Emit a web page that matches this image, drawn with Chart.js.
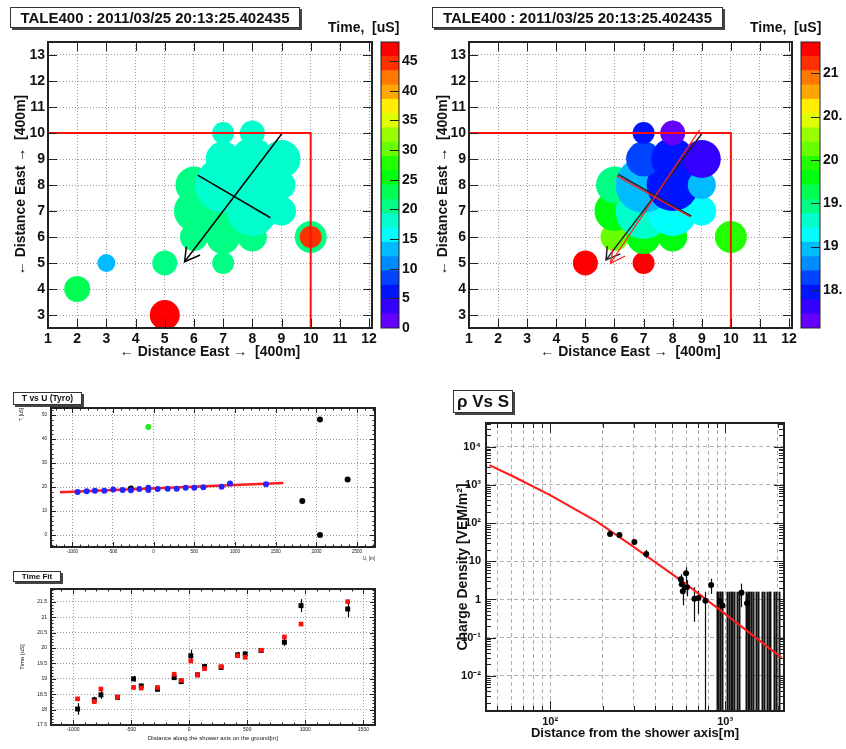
<!DOCTYPE html>
<html>
<head>
<meta charset="utf-8">
<title>TALE400 event display</title>
<script src="https://cdn.jsdelivr.net/npm/chart.js@4.4.1/dist/chart.umd.min.js"></script>
<style>
  html, body { margin: 0; padding: 0; background: #fff; }
  #page { position: relative; width: 846px; height: 749px; overflow: hidden; background: #fff;
          font-family: 'Liberation Sans', Arial, Helvetica, sans-serif; color: #111; }
  #page canvas { position: absolute; }
  .pave { position: absolute; box-sizing: border-box; border: 1px solid #333; box-shadow: 2px 2px 0 #444;
          background: #fff; font-weight: bold; text-align: center; white-space: nowrap; }
  .zlabel { position: absolute; font-weight: bold; font-size: 14px; white-space: pre; }
</style>
</head>
<body>
<div id="page">
  <canvas id="mapAll" width="400" height="370" style="left:0;top:0"></canvas>
  <canvas id="barAll" width="60" height="370" style="left:370px;top:0"></canvas>
  <canvas id="mapFit" width="400" height="370" style="left:420px;top:0"></canvas>
  <canvas id="barFit" width="56" height="370" style="left:790px;top:0"></canvas>
  <canvas id="tyro" width="430" height="185" style="left:0;top:385px"></canvas>
  <canvas id="timeFit" width="430" height="179" style="left:0;top:570px"></canvas>
  <canvas id="ldf" width="416" height="369" style="left:430px;top:380px"></canvas>

  <div class="pave" style="left:10px;top:7px;width:290px;height:21px;font-size:15px;line-height:19px">TALE400 : 2011/03/25 20:13:25.402435</div>
  <div class="pave" style="left:432px;top:7px;width:291px;height:21px;font-size:15px;line-height:19px">TALE400 : 2011/03/25 20:13:25.402435</div>
  <div class="zlabel" style="left:328px;top:19px">Time,  [uS]</div>
  <div class="zlabel" style="left:750px;top:19px">Time,  [uS]</div>
  <div class="pave" style="left:13px;top:392px;width:69px;height:13px;font-size:8.5px;line-height:11px">T vs U (Tyro)</div>
  <div class="pave" style="left:13px;top:571px;width:48px;height:11px;font-size:8px;line-height:9px">Time Fit</div>
  <div class="pave" style="left:453px;top:390px;width:60px;height:23px;font-size:17px;line-height:21px">ρ Vs S</div>
</div>

<script>
// ---------- detectors (map panels) ----------
const detX    = [5, 7,   6, 7, 8, 10,   6, 7, 8, 9,   6, 7, 8, 9,   7, 8, 9,   7, 8,   10, 2, 3, 5];
const detY    = [5, 5,   6, 6, 6, 6,    7, 7, 7, 7,   8, 8, 8, 8,   9, 9, 9,   10, 10, 6, 4, 5, 3];
const detTime = [21.38, 21.27, 20.19, 19.75, 19.81, 19.92, 19.78, 19.33, 19.13, 19.1,
                 19.42, 19.0, 18.5, 18.91, 18.7, 18.45, 18.32, 18.48, 18.1, 45.1, 23.2, 14.2, 48.3];
const detSize = [12.5, 11, 14, 17, 14.5, 16, 20, 28, 25, 14.5, 18.5, 28, 26, 14, 17.5, 21.5, 19, 11, 12.5, 11, 13, 9, 15];
const detInFit = [1,1, 1,1,1,1, 1,1,1,1, 1,1,1,1, 1,1,1, 1,1, 0,0,0,0];

const mapXTicks = [1, 2, 3, 4, 5, 6, 7, 8, 9, 10, 11, 12];
const mapYTicks = [3, 4, 5, 6, 7, 8, 9, 10, 11, 12, 13];
const arrayEdge = [[1, 10], [10, 10], [10, 2.5]];

const axisAll  = [[9.03, 10.0], [5.68, 5.05]];
const headAll  = [[5.74, 5.63], [5.68, 5.05], [6.21, 5.31]];
const frontAll = [[6.13, 8.38], [8.62, 6.74]];
const axisFit  = [[9.02, 10.0], [5.71, 5.12]];
const headFit  = [[5.75, 5.65], [5.71, 5.12], [6.2, 5.35]];
const frontFit = [[6.13, 8.41], [8.64, 6.8]];
const axisGeo  = [[8.93, 10.13], [5.86, 4.99]];
const headGeo  = [[5.95, 5.55], [5.86, 4.99], [6.37, 5.27]];
const frontGeo = [[6.08, 8.35], [8.6, 6.78]];

const zRangeAll = [0, 48.2];
const zTicksAll = [0, 5, 10, 15, 20, 25, 30, 35, 40, 45];
const zRangeFit = [18.06, 21.36];
const zTicksFit = [18.5, 19, 19.5, 20, 20.5, 21];
const zTextFit  = ['18.', '19', '19.', '20', '20.', '21'];

// ---------- T vs U (Tyro) ----------
const tyroU = [-933, -822, -720, -605, -495, -380, -278, -175, -65, -65, 50, 173, 284, 394, 500, 611, 836, 939, 1381];
const tyroT = [18.0, 18.3, 18.5, 18.5, 19.0, 18.75, 18.7, 19.2, 19.7, 18.75, 19.2, 19.3, 19.3, 19.7, 19.7, 19.9, 20.1, 21.5, 21.2];
const tyroOutU = [-278, 1827, 2044, 2044, 2384];
const tyroOutT = [19.4, 14.2, 48.2, 0, 23.2];
const tyroFlagU = [-65];
const tyroFlagT = [45.1];
const tyroLineU = [-1150, 1594];
const tyroLineT = [17.8, 21.75];
const tyroXTicks = [-1000, -500, 0, 500, 1000, 1500, 2000, 2500];
const tyroYTicks = [0, 10, 20, 30, 40, 50];

// ---------- Time fit ----------
const fitS     = [-961, -817, -760, -617, -479, -413, -273, -129, -69, 14, 71, 132, 275, 416, 482, 619, 820, 963, 1365];
const fitT     = [18.02, 18.32, 18.48, 18.4, 19.0, 18.77, 18.66, 19.04, 18.91, 19.75, 19.13, 19.4, 19.37, 19.78, 19.81, 19.92, 20.19, 21.38, 21.27];
const fitTErr  = [0.19, 0.1, 0.13, 0.06, 0.1, 0.08, 0.06, 0.08, 0.07, 0.2, 0.06, 0.08, 0.07, 0.1, 0.08, 0.07, 0.12, 0.21, 0.27];
const fitModel = [18.35, 18.26, 18.67, 18.41, 18.72, 18.7, 18.72, 19.15, 18.95, 19.58, 19.13, 19.33, 19.4, 19.75, 19.7, 19.93, 20.36, 20.78, 21.51];
const fitXTicks = [-1000, -500, 0, 500, 1000, 1500];
const fitYTicks = [17.5, 18, 18.5, 19, 19.5, 20, 20.5, 21, 21.5];

// ---------- rho vs S ----------
const rhoS   = [220, 249, 303, 354, 558, 565, 573, 598, 605, 668, 704, 772, 832, 935, 966, 1240, 1335];
const rhoVal = [52, 49, 32, 15.5, 3.4, 2.5, 1.65, 4.9, 2.1, 1.04, 1.1, 0.93, 2.4, 0.9, 0.7, 1.5, 0.8];
const rhoLo  = [46, 44, 27, 12, 2.4, 1.5, 0.7, 2.6, 1.2, 0.26, 0.42, 0, 1.4, 0.35, 0.3, 0.63, 0.13];
const rhoHi  = [58, 55, 38, 20, 4.6, 3.9, 3.1, 7, 3.2, 2.1, 1.7, 1.6, 3.5, 1.6, 1.6, 2.6, 1.4];
const zeroS  = [896, 916, 936, 957, 1031, 1054, 1078, 1097, 1125, 1166, 1202, 1318, 1348, 1378, 1414,
                1452, 1504, 1550, 1620, 1670, 1730, 1770, 1807, 1890, 1956, 2042];
const zeroUpper = 1.6;
const ldfS   = [45, 62, 100, 185, 300, 580, 1000, 2100];
const ldfRho = [3300, 1640, 540, 110, 24, 2.8, 0.42, 0.03];
const rhoXTickVals = [100, 1000];
const rhoXTickText = ['10²', '10³'];
const rhoYTickVals = [1e-2, 1e-1, 1, 10, 100, 1e3, 1e4];
const rhoYTickText = ['10⁻²', '10⁻¹', '1', '10', '10²', '10³', '10⁴'];

// ---------- helpers ----------
const FONT = "'Liberation Sans', Arial, Helvetica, sans-serif";
const INK = '#111';
const GRID = '#9a9a9a';
const f = (size, bold) => ({ family: FONT, size: size, weight: bold ? 'bold' : 'normal', lineHeight: 1.2 });
const fixedTicks = vals => s => { s.ticks = vals.map(v => ({ value: v })); };
const plain = v => String(v);   // ROOT style labels, no thousands separator
const steps = (a, b, d) => { const out = []; for (let v = a; v <= b + 1e-9; v += d) out.push(+v.toFixed(6)); return out; };
const logMinors = (lo, hi) => { const out = []; for (let e = lo; e <= hi; e++) for (let m = 2; m <= 9; m++) out.push(m * Math.pow(10, e)); return out; };
const pts = arr => arr.map(([x, y]) => ({ x, y }));

// ROOT "pretty" palette (50 hues violet -> red), 20 contour levels
function rootColor(j) {
  const idx = Math.floor((j + 0.99) * 50 / 20);
  const hue = 280 - (idx + 1) * 5.6;
  return 'hsl(' + hue.toFixed(1) + ', 100%, 50%)';
}
function zColor(t, zr) {
  let j = Math.floor((t - zr[0]) / (zr[1] - zr[0]) * 20);
  return rootColor(Math.max(0, Math.min(19, j)));
}

// ROOT style frame with inward ticks on every side
const rootFrame = {
  id: 'rootFrame',
  afterDatasetsDraw(chart, args, o) {
    if (!o || !o.width) return;
    const { ctx, chartArea: a, scales } = chart;
    const sides = o.sides || { bottom: true, top: true, left: true, right: true };
    ctx.save();
    ctx.strokeStyle = o.color || '#222';
    ctx.lineWidth = 1;
    const mark = (scale, vals, len) => {
      if (!scale || !vals) return;
      vals.forEach(v => {
        const p = Math.round(scale.getPixelForValue(v)) + 0.5;
        ctx.beginPath();
        if (scale.isHorizontal()) {
          if (p < a.left || p > a.right) return;
          if (sides.bottom) { ctx.moveTo(p, a.bottom); ctx.lineTo(p, a.bottom - len); }
          if (sides.top) { ctx.moveTo(p, a.top); ctx.lineTo(p, a.top + len); }
        } else {
          if (p < a.top || p > a.bottom) return;
          if (sides.left) { ctx.moveTo(a.left, p); ctx.lineTo(a.left + len, p); }
          if (sides.right) { ctx.moveTo(a.right, p); ctx.lineTo(a.right - len, p); }
        }
        ctx.stroke();
      });
    };
    if (scales.x && scales.x.type !== 'category') mark(scales.x, o.xMajor || scales.x.ticks.map(t => t.value), o.major);
    mark(scales.x, o.xMinor, o.minor);
    mark(scales.y, o.yMajor || scales.y.ticks.map(t => t.value), o.major);
    mark(scales.y, o.yMinor, o.minor);
    ctx.lineWidth = o.width;
    ctx.strokeRect(a.left, a.top, a.width, a.height);
    ctx.restore();
  }
};

// vertical error bars read from data points {lo, hi}
const errorBars = {
  id: 'errorBars',
  beforeDatasetsDraw(chart) {
    const { ctx, chartArea: a, scales: { x, y } } = chart;
    ctx.save();
    ctx.beginPath(); ctx.rect(a.left, a.top, a.width, a.height); ctx.clip();
    chart.data.datasets.forEach(ds => {
      if (!ds.errColor) return;
      ctx.strokeStyle = ds.errColor;
      ctx.lineWidth = ds.errWidth || 1;
      ds.data.forEach(d => {
        if (d.lo === undefined) return;
        const px = Math.round(x.getPixelForValue(d.x)) + 0.5;
        const y1 = (y.type === 'logarithmic' && d.lo <= 0) ? a.bottom : y.getPixelForValue(d.lo);
        const y2 = y.getPixelForValue(d.hi);
        ctx.beginPath(); ctx.moveTo(px, y1); ctx.lineTo(px, y2); ctx.stroke();
      });
    });
    ctx.restore();
  }
};
Chart.register(rootFrame, errorBars);

const base = {
  animation: false, responsive: false, events: [],
  plugins: { legend: { display: false }, tooltip: { enabled: false } }
};

// ---------- map panels ----------
function buildMap(id, keep, zr, lines, yWidth, yTitlePad) {
  const idx = detX.map((_, i) => i).filter(keep);
  const bubbles = idx.map(i => ({ x: detX[i], y: detY[i], r: detSize[i] }));
  const colors = idx.map(i => zColor(detTime[i], zr));
  const lineSets = lines.map(([p, color, w]) => ({
    type: 'scatter', data: pts(p), showLine: true, borderColor: color, borderWidth: w,
    pointRadius: 0, fill: false, clip: 0
  }));
  new Chart(document.getElementById(id), {
    type: 'bubble',
    data: { datasets: [...lineSets, { type: 'bubble', data: bubbles, backgroundColor: colors, borderWidth: 0, hoverRadius: 0, clip: 0 }] },
    options: {
      ...base,
      layout: { padding: { left: 0, top: 42, right: 20, bottom: 0 } },
      plugins: { ...base.plugins, rootFrame: { width: 2, color: '#222', major: 9 } },
      scales: {
        x: {
          type: 'linear', min: 1, max: 12.1,
          afterBuildTicks: fixedTicks(mapXTicks), afterFit: s => { s.height = 42; },
          grid: { color: GRID, drawTicks: false }, border: { display: false, dash: [1, 2] },
          ticks: { font: f(14, true), color: INK, padding: 3, maxRotation: 0, autoSkip: false, callback: plain },
          title: { display: true, text: '← Distance East →  [400m]', font: f(14, true), color: INK, padding: { top: 0, bottom: 9.6 } }
        },
        y: {
          type: 'linear', min: 2.5, max: 13.5,
          afterBuildTicks: fixedTicks(mapYTicks), afterFit: s => { s.width = yWidth; },
          grid: { color: GRID, drawTicks: false }, border: { display: false, dash: [1, 2] },
          ticks: { font: f(14, true), color: INK, padding: 3, autoSkip: false, callback: plain },
          title: { display: true, text: '← Distance East →  [400m]', font: f(14, true), color: INK, padding: { top: yTitlePad, bottom: 0 } }
        }
      }
    }
  });
}

buildMap('mapAll', () => true, zRangeAll, [
  [arrayEdge, '#ff1010', 2],
  [axisAll, '#000', 1.5], [headAll, '#000', 1.5], [frontAll, '#000', 1.5]
], 48, 12.6);

buildMap('mapFit', i => detInFit[i] === 1, zRangeFit, [
  [arrayEdge, '#ff1010', 2],
  [axisGeo, '#ff2020', 1.3], [headGeo, '#ff2020', 1.3], [frontGeo, '#ff2020', 1.3],
  [axisFit, '#222', 1.5], [headFit, '#222', 1.5], [frontFit, '#222', 1.5]
], 49, 14.6);

// ---------- colour bars ----------
function buildBar(id, zr, tickVals, tickText, axisWidth) {
  const bands = [];
  for (let j = 0; j < 20; j++) {
    const lo = zr[0] + (zr[1] - zr[0]) * j / 20, hi = zr[0] + (zr[1] - zr[0]) * (j + 1) / 20;
    bands.push({ data: [[lo, hi]], backgroundColor: rootColor(j), borderWidth: 0, grouped: false,
                 barPercentage: 1, categoryPercentage: 1 });
  }
  new Chart(document.getElementById(id), {
    type: 'bar',
    data: { labels: [''], datasets: bands },
    options: {
      ...base,
      layout: { padding: { left: 11, top: 42, right: 0, bottom: 42 } },
      plugins: { ...base.plugins, rootFrame: { width: 1, color: '#222', major: 9, sides: { right: true } } },
      scales: {
        x: { type: 'category', display: false },
        y: {
          type: 'linear', position: 'right', min: zr[0], max: zr[1],
          afterBuildTicks: fixedTicks(tickVals), afterFit: s => { s.width = axisWidth; },
          grid: { display: false, drawTicks: false }, border: { display: false },
          ticks: { font: f(14, true), color: INK, padding: 3, autoSkip: false,
                   callback: v => tickText ? tickText[tickVals.indexOf(v)] : String(v) }
        }
      }
    }
  });
}
buildBar('barAll', zRangeAll, zTicksAll, null, 31);
buildBar('barFit', zRangeFit, zTicksFit, zTextFit, 26);

// ---------- T vs U ----------
new Chart(document.getElementById('tyro'), {
  type: 'scatter',
  data: { datasets: [
    { data: tyroU.map((u, i) => ({ x: u, y: tyroT[i] })), backgroundColor: '#2424ff', borderWidth: 0, pointRadius: 3 },
    { data: tyroOutU.map((u, i) => ({ x: u, y: tyroOutT[i] })), backgroundColor: '#000', borderWidth: 0, pointRadius: 3 },
    { data: tyroFlagU.map((u, i) => ({ x: u, y: tyroFlagT[i] })), backgroundColor: '#22ee22', borderWidth: 0, pointRadius: 3 },
    { data: tyroLineU.map((u, i) => ({ x: u, y: tyroLineT[i] })), showLine: true, borderColor: '#ff1c1c', borderWidth: 2.5, pointRadius: 0 }
  ] },
  options: {
    ...base,
    layout: { padding: { left: 0, top: 23, right: 55, bottom: 0 } },
    plugins: { ...base.plugins, rootFrame: { width: 2, color: '#222', major: 5, minor: 2.5,
      xMinor: steps(-1200, 2700, 100), yMinor: steps(-4, 52, 2) } },
    scales: {
      x: {
        type: 'linear', min: -1260, max: 2720,
        afterBuildTicks: fixedTicks(tyroXTicks), afterFit: s => { s.height = 23; },
        grid: { color: GRID, drawTicks: false }, border: { display: false, dash: [1, 2] },
        ticks: { font: f(4.5, false), color: INK, padding: 2, maxRotation: 0, autoSkip: false, callback: plain },
        title: { display: true, text: 'U, [m]', align: 'end', font: f(4.5, false), color: INK, padding: { top: 0, bottom: 8.4 } }
      },
      y: {
        type: 'linear', min: -5, max: 53,
        afterBuildTicks: fixedTicks(tyroYTicks), afterFit: s => { s.width = 51; },
        grid: { color: GRID, drawTicks: false }, border: { display: false, dash: [1, 2] },
        ticks: { font: f(4.5, false), color: INK, padding: 4, autoSkip: false, callback: plain },
        title: { display: true, text: 'T, [uS]', align: 'end', font: f(4.5, false), color: INK, padding: { top: 19, bottom: 0 } }
      }
    }
  }
});

// ---------- Time fit ----------
new Chart(document.getElementById('timeFit'), {
  type: 'scatter',
  data: { datasets: [
    { data: fitS.map((s, i) => ({ x: s, y: fitModel[i] })), backgroundColor: '#ff1010', borderWidth: 0,
      pointStyle: 'rect', pointRadius: 3.3 },
    { data: fitS.map((s, i) => ({ x: s, y: fitT[i], lo: fitT[i] - fitTErr[i], hi: fitT[i] + fitTErr[i] })),
      backgroundColor: '#000', borderWidth: 0, pointStyle: 'rect', pointRadius: 3.5, errColor: '#000', errWidth: 1.2 }
  ] },
  options: {
    ...base,
    layout: { padding: { left: 0, top: 19, right: 55, bottom: 0 } },
    plugins: { ...base.plugins, rootFrame: { width: 2, color: '#222', major: 5, minor: 2.5,
      xMinor: steps(-1100, 1600, 100), yMinor: steps(17.5, 21.9, 0.1) } },
    scales: {
      x: {
        type: 'linear', min: -1190, max: 1600,
        afterBuildTicks: fixedTicks(fitXTicks), afterFit: s => { s.height = 24; },
        grid: { color: GRID, drawTicks: false }, border: { display: false, dash: [1, 2] },
        ticks: { font: f(5, false), color: INK, padding: 2, maxRotation: 0, autoSkip: false, callback: plain },
        title: { display: true, text: 'Distance along the shower axis on the ground[m]', font: f(6, false), color: INK, padding: { top: 0, bottom: 7 } }
      },
      y: {
        type: 'linear', min: 17.5, max: 21.92,
        afterBuildTicks: fixedTicks(fitYTicks), afterFit: s => { s.width = 51; },
        grid: { color: GRID, drawTicks: false }, border: { display: false, dash: [1, 2] },
        ticks: { font: f(5, false), color: INK, padding: 4, autoSkip: false, callback: plain },
        title: { display: true, text: 'Time [uS]', font: f(6, false), color: INK, padding: { top: 19, bottom: 0 } }
      }
    }
  }
});

// ---------- rho vs S ----------
const rhoXGrid = [50, 60, 70, 80, 90, 100, 200, 300, 400, 500, 600, 700, 800, 900, 1000, 2000];
new Chart(document.getElementById('ldf'), {
  type: 'scatter',
  data: { datasets: [
    { data: rhoS.map((s, i) => ({ x: s, y: rhoVal[i], lo: rhoLo[i], hi: rhoHi[i] })),
      backgroundColor: '#000', borderWidth: 0, pointRadius: 3, errColor: '#111', errWidth: 1.2 },
    { data: ldfS.map((s, i) => ({ x: s, y: ldfRho[i] })), showLine: true, borderColor: '#ff1a1a', borderWidth: 2, pointRadius: 0 },
    { data: zeroS.map(s => ({ x: s, y: null, lo: 0, hi: zeroUpper })), pointRadius: 0, errColor: '#111', errWidth: 2 }
  ] },
  options: {
    ...base,
    layout: { padding: { left: 0, top: 43, right: 62, bottom: 0 } },
    plugins: { ...base.plugins, rootFrame: { width: 2, color: '#222', major: 10, minor: 5,
      xMajor: rhoXTickVals, xMinor: [50, 60, 70, 80, 90].concat(logMinors(2, 3)),
      yMajor: rhoYTickVals, yMinor: logMinors(-3, 4) } },
    scales: {
      x: {
        type: 'logarithmic', min: 43, max: 2170,
        afterBuildTicks: fixedTicks(rhoXGrid), afterFit: s => { s.height = 38; },
        grid: { color: '#b0b0b0', drawTicks: false }, border: { display: false, dash: [4, 3] },
        ticks: { font: f(11, true), color: INK, padding: 4, maxRotation: 0, autoSkip: false,
                 callback: v => { const k = rhoXTickVals.indexOf(v); return k < 0 ? '' : rhoXTickText[k]; } },
        title: { display: true, text: 'Distance from the shower axis[m]', font: f(13, true), color: INK, padding: { top: 0, bottom: 8.2 } }
      },
      y: {
        type: 'logarithmic', min: 0.0012, max: 42000,
        afterBuildTicks: fixedTicks(rhoYTickVals), afterFit: s => { s.width = 56; },
        grid: { color: '#b0b0b0', drawTicks: false }, border: { display: false, dash: [4, 3] },
        ticks: { font: f(11, true), color: INK, padding: 5, autoSkip: false,
                 callback: v => { const k = rhoYTickVals.indexOf(v); return k < 0 ? '' : rhoYTickText[k]; } },
        title: { display: true, text: 'Charge Density [VEM/m²]', font: f(14, true), color: INK, padding: { top: 24.6, bottom: 0 } }
      }
    }
  }
});
</script>
</body>
</html>
